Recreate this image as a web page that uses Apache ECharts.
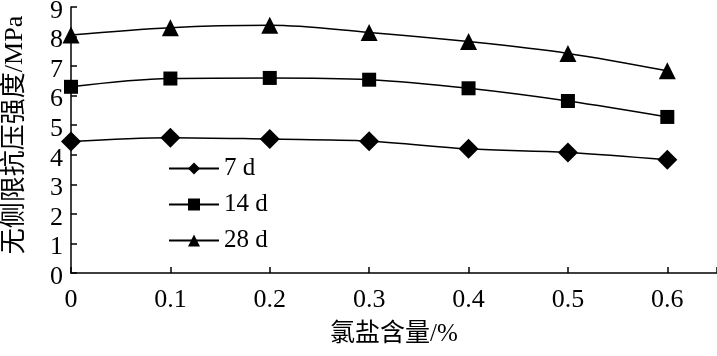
<!DOCTYPE html>
<html><head><meta charset="utf-8">
<script src="https://cdn.jsdelivr.net/npm/echarts@6/dist/echarts.min.js"></script>
<style>html,body{margin:0;padding:0;background:#fff}#c{width:717px;height:356px}</style>
</head><body><div id="c"></div>
<script>
const xValues = [0, 0.1, 0.2, 0.3, 0.4, 0.5, 0.6];
const s7 = [4.45, 4.58, 4.53, 4.46, 4.2, 4.08, 3.83];
const s14 = [6.3, 6.58, 6.6, 6.54, 6.25, 5.82, 5.28];
const s28 = [8.05, 8.3, 8.38, 8.14, 7.83, 7.43, 6.84];
const names = ['7 d', '14 d', '28 d'];
const FONT = "'Liberation Serif', 'Noto Sans CJK SC', serif";
const chart = echarts.init(document.getElementById('c'));
function mk(name, vals, sym, size){
  return {name, type:'line', smooth:0.35, data: xValues.map((x,i)=>[x, vals[i]]),
    symbol: sym, symbolSize: size, showAllSymbol:true,
    lineStyle:{color:'#000', width:1.5}, itemStyle:{color:'#000'}};
}
chart.setOption({
  animation:false,
  grid:{left:71, right:0, top:7, bottom:83, outerBoundsMode:'none', containLabel:false},
  legend:{orient:'vertical', left:163, top:151, itemWidth:50, itemHeight:15, itemGap:11,
    textStyle:{fontFamily:FONT, fontSize:25, color:'#000'}, data:names},
  xAxis:{type:'value', min:0, max:0.65, interval:0.1,
    axisLine:{lineStyle:{color:'#000', width:1.5}},
    axisTick:{inside:true, length:6, lineStyle:{color:'#000', width:1.5}},
    splitLine:{show:false},
    axisLabel:{fontFamily:FONT, fontSize:26, color:'#000', margin:14,
      formatter:v=> (v>0.61? '' : (Math.round(v*10)/10).toString())},
    name:'氯盐含量/%', nameLocation:'middle', nameGap:49,
    nameTextStyle:{fontFamily:FONT, fontSize:25, color:'#000'}},
  yAxis:{type:'value', min:0, max:9, interval:1,
    axisLine:{lineStyle:{color:'#000', width:1.5}},
    axisTick:{inside:true, length:6, lineStyle:{color:'#000', width:1.5}},
    splitLine:{show:false},
    axisLabel:{margin:8, formatter:v=>'{a|'+v+'}',
      rich:{a:{fontFamily:FONT, fontSize:26, color:'#000', padding:[8,0,0,0]}}},
    name:'无侧限抗压强度/MPa', nameLocation:'middle', nameGap:43,
    nameTextStyle:{fontFamily:FONT, fontSize:26, color:'#000', padding:[0,0,0,10]}},
  series:[mk(names[0], s7, 'diamond', 20), mk(names[1], s14, 'rect', 14), mk(names[2], s28, 'triangle', 17)]
});
</script></body></html>
